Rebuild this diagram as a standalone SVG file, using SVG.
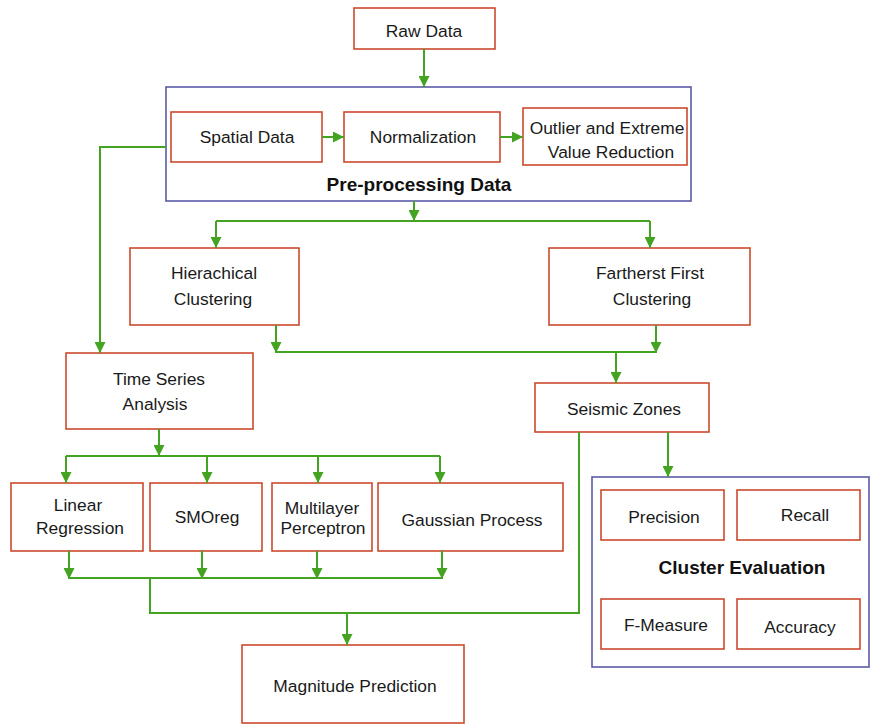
<svg xmlns="http://www.w3.org/2000/svg" width="871" height="725" viewBox="0 0 871 725">
<defs>
<style>
.box{fill:#fff;stroke:#cc4a2e;stroke-width:1.6}
.grp{fill:#fff;stroke:#5b5ba6;stroke-width:1.6}
.t{font-family:"Liberation Sans",Arial,sans-serif;font-size:17.4px;fill:#1a1a1a;text-anchor:middle}
.b{font-family:"Liberation Sans",Arial,sans-serif;font-size:19px;font-weight:bold;fill:#111;text-anchor:middle}
.c{fill:none;stroke:#45a322;stroke-width:2}
.a{marker-end:url(#ah)}
</style>
<marker id="ah" viewBox="0 0 10 10" refX="10" refY="5" markerWidth="11" markerHeight="11" markerUnits="userSpaceOnUse" orient="auto">
<path d="M0,0 L10,5 L0,10 z" fill="#45a322"/>
</marker>
</defs>
<rect width="871" height="725" fill="#fff"/>
<g id="preprocessing">
<rect class="grp" x="166" y="87" width="525" height="114"/>
<text class="b" x="419" y="191">Pre-processing Data</text>
</g>
<g id="cluster-evaluation">
<rect class="grp" x="592" y="477" width="277" height="190"/>
<text class="b" x="742" y="574">Cluster Evaluation</text>
</g>
<g id="raw-data"><rect class="box" x="354" y="8" width="141" height="41"/><text class="t" x="424" y="37">Raw Data</text></g>
<g id="spatial-data"><rect class="box" x="171" y="112" width="151" height="50"/><text class="t" x="247" y="143">Spatial Data</text></g>
<g id="normalization"><rect class="box" x="344" y="112" width="156" height="50"/><text class="t" x="423" y="143">Normalization</text></g>
<g id="outlier"><rect class="box" x="523" y="108" width="164" height="57"/><text class="t" x="607" y="134">Outlier and Extreme</text><text class="t" x="611" y="158">Value Reduction</text></g>
<g id="hierachical"><rect class="box" x="130" y="248" width="169" height="77"/><text class="t" x="214" y="279">Hierachical</text><text class="t" x="213" y="305">Clustering</text></g>
<g id="farthest-first"><rect class="box" x="549" y="248" width="201" height="77"/><text class="t" x="650" y="279">Fartherst First</text><text class="t" x="652" y="305">Clustering</text></g>
<g id="time-series"><rect class="box" x="66" y="353" width="187" height="76"/><text class="t" x="159" y="385">Time Series</text><text class="t" x="155" y="410">Analysis</text></g>
<g id="seismic-zones"><rect class="box" x="535" y="383" width="174" height="49"/><text class="t" x="624" y="415">Seismic Zones</text></g>
<g id="linear-regression"><rect class="box" x="11" y="483" width="132" height="68"/><text class="t" x="78" y="511">Linear</text><text class="t" x="80" y="534">Regression</text></g>
<g id="smoreg"><rect class="box" x="150" y="483" width="112" height="68"/><text class="t" x="207" y="523">SMOreg</text></g>
<g id="multilayer-perceptron"><rect class="box" x="272" y="483" width="100" height="68"/><text class="t" x="322" y="514">Multilayer</text><text class="t" x="323" y="534">Perceptron</text></g>
<g id="gaussian-process"><rect class="box" x="378" y="483" width="185" height="68"/><text class="t" x="472" y="526">Gaussian Process</text></g>
<g id="precision"><rect class="box" x="601" y="490" width="123" height="50"/><text class="t" x="664" y="523">Precision</text></g>
<g id="recall"><rect class="box" x="737" y="490" width="123" height="50"/><text class="t" x="805" y="521">Recall</text></g>
<g id="f-measure"><rect class="box" x="601" y="599" width="123" height="50"/><text class="t" x="666" y="631">F-Measure</text></g>
<g id="accuracy"><rect class="box" x="737" y="599" width="123" height="50"/><text class="t" x="800" y="633">Accuracy</text></g>
<g id="magnitude-prediction"><rect class="box" x="242" y="645" width="222" height="78"/><text class="t" x="355" y="692">Magnitude Prediction</text></g>
<g id="connectors">
<path class="c a" d="M424,49 V87"/>
<path class="c a" d="M322,137 H344"/>
<path class="c a" d="M500,137 H523"/>
<path class="c a" d="M166,147 H100 V353"/>
<path class="c a" d="M414,201 V221"/>
<path class="c" d="M216,221 H650"/>
<path class="c a" d="M216,221 V248"/>
<path class="c a" d="M650,221 V248"/>
<path class="c a" d="M276,325 V353"/>
<path class="c a" d="M656,325 V353"/>
<path class="c" d="M276,352 H656"/>
<path class="c a" d="M616,352 V383"/>
<path class="c a" d="M159,429 V456"/>
<path class="c" d="M66,456 H440"/>
<path class="c a" d="M66,456 V483"/>
<path class="c a" d="M207,456 V483"/>
<path class="c a" d="M318,456 V483"/>
<path class="c a" d="M440,456 V483"/>
<path class="c a" d="M69,551 V579"/>
<path class="c a" d="M202,551 V579"/>
<path class="c a" d="M317,551 V579"/>
<path class="c a" d="M442,551 V579"/>
<path class="c" d="M69,578 H442"/>
<path class="c" d="M150,578 V613 H579 V432"/>
<path class="c a" d="M347,613 V645"/>
<path class="c a" d="M668,432 V477"/>
</g>
</svg>
